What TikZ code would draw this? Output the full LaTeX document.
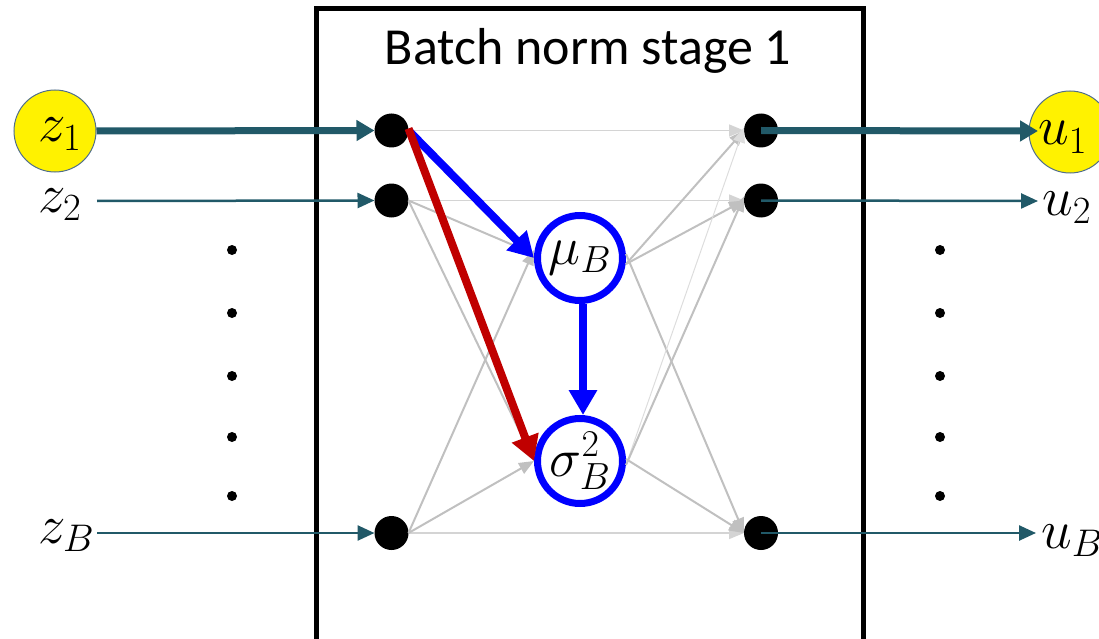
\RequirePackage{fix-cm}
\documentclass[tikz,border=0pt]{standalone}
\usepackage{fontspec}
\newfontfamily\titlefont{Carlito}
\usetikzlibrary{arrows.meta}
\definecolor{tealc}{RGB}{33,89,104}
\definecolor{myred}{RGB}{192,0,0}
\definecolor{edgegray}{RGB}{192,192,192}
\definecolor{hgray}{RGB}{212,212,212}
\definecolor{ybord}{RGB}{80,110,140}
\begin{document}
\begin{tikzpicture}[x=1pt,y=-1pt,
  dotnode/.style={circle,fill=black,minimum size=34pt,inner sep=0pt,outer sep=0pt},
  stat/.style={circle,draw=blue,line width=7pt,minimum size=85pt,inner sep=0pt,font=\fontsize{54}{60}\selectfont},
  ycirc/.style={circle,fill=yellow,draw=ybord,line width=1pt,minimum size=82pt,inner sep=0pt},
  lab/.style={inner sep=0pt,anchor=base west,font=\fontsize{55}{60}\selectfont},
  vdot/.style={circle,fill=black,minimum size=10pt,inner sep=0pt},
  garrow/.style={draw=edgegray,line width=2pt,-{Triangle[length=15pt,width=12pt]}},
  harrow/.style={draw=hgray,line width=1.5pt,-{Triangle[length=15pt,width=12pt]}},
  farrow/.style={draw=hgray!80,line width=1pt,-{Triangle[length=15pt,width=12pt]}},
  tthin/.style={draw=tealc,line width=2.5pt,-{Triangle[length=17pt,width=15pt]}},
  tthick/.style={draw=tealc,line width=7pt,-{Triangle[length=18pt,width=20pt]}},
  barrow/.style={line width=8pt,-{Triangle[length=25pt,width=27pt]}}
]
\useasboundingbox (0,0) rectangle (1099,639);
\clip (0,0) rectangle (1099,639);

% box and title
\draw[line width=5pt] (316,9) rectangle (863,641);
\node[font=\titlefont\fontsize{52}{60}\selectfont, anchor=base, inner sep=0pt] (title) at (588,65) {Batch norm stage 1};

% yellow circles
\node[ycirc] (z1c) at (55,131) {};
\node[ycirc] (u1c) at (1070,132) {};

% labels
\node[lab] (z1) at (38,142) {$z_1$};
\node[lab] (z2) at (38,212) {$z_2$};
\node[lab] (zB) at (38,543) {$z_B$};
\node[lab] (u1) at (1038,145) {$u_1$};
\node[lab] (u2) at (1042,215) {$u_2$};
\node[lab] (uB) at (1041,548) {$u_B$};

% vertical dots
\foreach \yy [count=\i] in {250,313,376,437,496}{
  \node[vdot] (ld\i) at (232,\yy) {};
  \node[vdot] (rd\i) at (940,\yy) {};
}

% nodes
\node[dotnode] (L1) at (391.5,130.5) {};
\node[dotnode] (L2) at (391.5,200.5) {};
\node[dotnode] (LB) at (391.5,533) {};
\node[dotnode] (R1) at (761,130.5) {};
\node[dotnode] (R2) at (761,200.5) {};
\node[dotnode] (RB) at (761,533) {};
\node[stat] (mu) at (580,258) {$\mu_B$};
\node[stat] (sig) at (580,461) {$\sigma_B^2$};

% gray edges
\draw[harrow] (L1.east) -- (R1.west);
\draw[harrow] (L2.east) -- (R2.west);
\draw[harrow] (LB.east) -- (RB.west);
\draw[garrow] (L2.east) -- ([yshift=4pt]mu.west);
\draw[garrow] (LB.east) -- ([yshift=8pt]mu.west);
\draw[garrow] (L2.east) -- (sig.west);
\draw[garrow] (LB.east) -- (sig.west);
\draw[garrow] ([yshift=-6pt]mu.east) -- (R1.west);
\draw[garrow] ([yshift=-6pt]mu.east) -- (R2.west);
\draw[garrow] ([yshift=4pt]mu.east) -- (RB.west);
\draw[farrow] ([yshift=-4pt]sig.east) -- ([yshift=3pt]R1.west);
\draw[garrow] ([yshift=-4pt]sig.east) -- ([yshift=4pt]R2.west);
\draw[garrow] ([yshift=2pt]sig.east) -- (RB.west);

% coloured edges
\draw[barrow,draw=blue,fill=blue] (L1.east) -- (mu.west);
\draw[barrow,draw=myred,fill=myred] ([yshift=2pt]L1.east) -- (sig.west);
\draw[barrow,draw=blue,fill=blue] ([xshift=3pt]mu.south) -- ([xshift=3pt]sig.north);

% inputs
\coordinate (s2) at (97,201);
\coordinate (sB) at (97,533);
\draw[tthick] (z1c.east) -- (L1.west);
\draw[tthin] (s2) -- (L2.west);
\draw[tthin] (sB) -- (LB.west);

% outputs
\coordinate (t1) at (1038,131);
\coordinate (t2) at (1038,201);
\coordinate (tB) at (1036,533);
\draw[tthick] (R1.center) -- (t1);
\draw[tthin] (R2.center) -- (t2);
\draw[tthin] (RB.center) -- (tB);
\end{tikzpicture}
\end{document}
